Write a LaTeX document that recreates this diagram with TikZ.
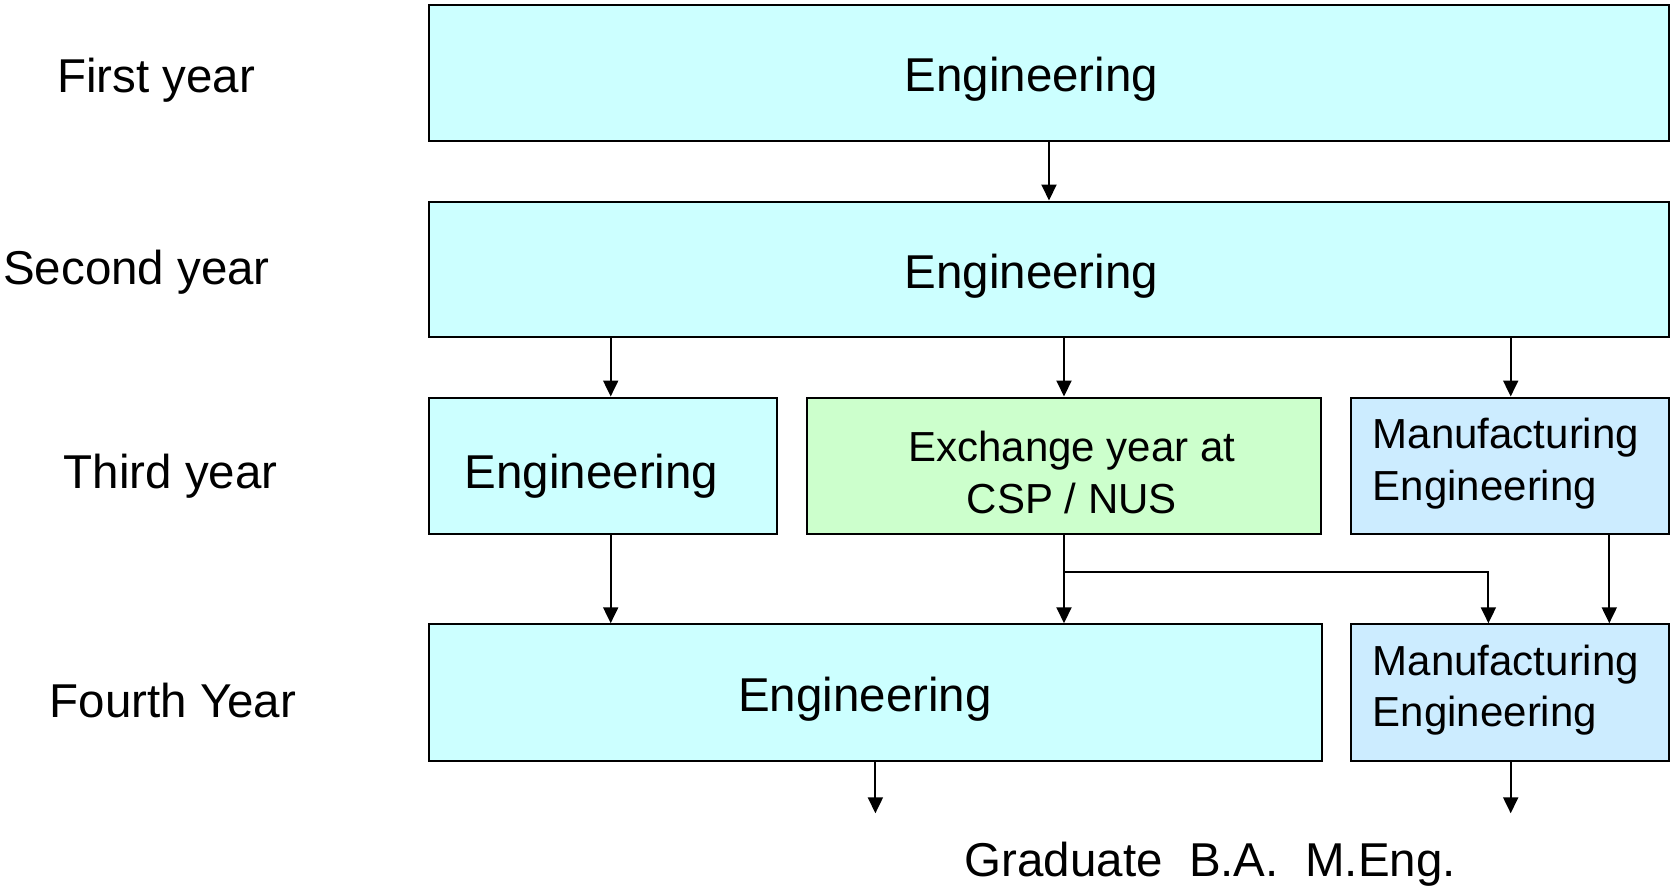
\documentclass[tikz,border=0pt]{standalone}
\usepackage{fontspec}
\setmainfont{Liberation Sans}
\usetikzlibrary{arrows.meta}
\definecolor{cyanbox}{HTML}{CCFFFF}
\definecolor{greenbox}{HTML}{CCFFCC}
\definecolor{bluebox}{HTML}{CCECFF}
\begin{document}
\frenchspacing
\begin{tikzpicture}[x=1pt,y=-1pt,
  box/.style={draw=black, line width=2pt, rectangle, inner sep=0pt},
  big/.style={font=\fontsize{47.5}{56}\selectfont, inner sep=0pt, anchor=base west},
  small/.style={font=\fontsize{42}{51.5}\selectfont, inner sep=0pt},
  arr/.style={line width=2pt, -{Triangle[width=15pt,length=16pt]}}]
\useasboundingbox (0,0) rectangle (1671,887);
% boxes
\node[box, fill=cyanbox, minimum width=1240pt, minimum height=135.5pt] (b1) at (1049,72.75) {};
\node[box, fill=cyanbox, minimum width=1240pt, minimum height=135.5pt] (b2) at (1049,269.25) {};
\node[box, fill=cyanbox, minimum width=348pt, minimum height=136pt] (b3a) at (603,465.5) {};
\node[box, fill=greenbox, minimum width=514.5pt, minimum height=136pt] (b3b) at (1064,465.5) {};
\node[box, fill=bluebox, minimum width=318pt, minimum height=136pt] (b3c) at (1510,465.5) {};
\node[box, fill=cyanbox, minimum width=892.5pt, minimum height=136.5pt] (b4a) at (875.25,692.5) {};
\node[box, fill=bluebox, minimum width=318pt, minimum height=136.5pt] (b4b) at (1510,692.5) {};
% box texts
\node[big] (t1) at (904.5,91.7) {Engineering};
\node[big] (t2) at (904.5,288.3) {Engineering};
\node[big] (t3a) at (464.6,488.6) {Engineering};
\node[big] (t4a) at (738,711.7) {Engineering};
\node[small, anchor=base] (t3b1) at (1072,461.7) {Exchange year at};
\node[small, anchor=base] (t3b2) at (1072,513.3) {CSP / NUS};
\node[small, anchor=base west] (t3c1) at (1372.7,448.3) {Manufacturing};
\node[small, anchor=base west] (t3c2) at (1372.7,500) {Engineering};
\node[small, anchor=base west] (t4b1) at (1372.7,675) {Manufacturing};
\node[small, anchor=base west] (t4b2) at (1372.7,726.7) {Engineering};
% year labels
\node[big] (l1) at (57,92.6) {First year};
\node[big] (l2) at (3,284) {Second year};
\node[big] (l3) at (63.5,488.6) {Third year};
\node[big] (l4) at (49.5,717) {Fourth Year};
\node[big] (grad) at (964.5,876) {Graduate\ \ B.A.\ \ M.Eng.};
% coordinates
\coordinate (xa) at (610.7,0);
\coordinate (xb) at (1064,0);
\coordinate (xc) at (1510.7,0);
\coordinate (xd) at (1488.4,0);
\coordinate (xe) at (1609.3,0);
\coordinate (split) at (1064,571.7);
\coordinate (end1) at (875.4,813.3);
\coordinate (end2) at (1510.7,813.3);
% connectors
\draw[arr] (b1.south) -- (b2.north);
\draw[arr] (b2.south -| xa) -- (b3a.north -| xa);
\draw[arr] (b2.south -| xb) -- (b3b.north -| xb);
\draw[arr] (b2.south -| xc) -- (b3c.north -| xc);
\draw[arr] (b3a.south -| xa) -- (b4a.north -| xa);
\draw[arr] (b3b.south) -- (b4a.north -| b3b.south);
\draw[arr] (split) -| (b4b.north -| xd);
\draw[arr] (b3c.south -| xe) -- (b4b.north -| xe);
\draw[arr] (b4a.south -| end1) -- (end1);
\draw[arr] (b4b.south -| end2) -- (end2);
\end{tikzpicture}
\end{document}
